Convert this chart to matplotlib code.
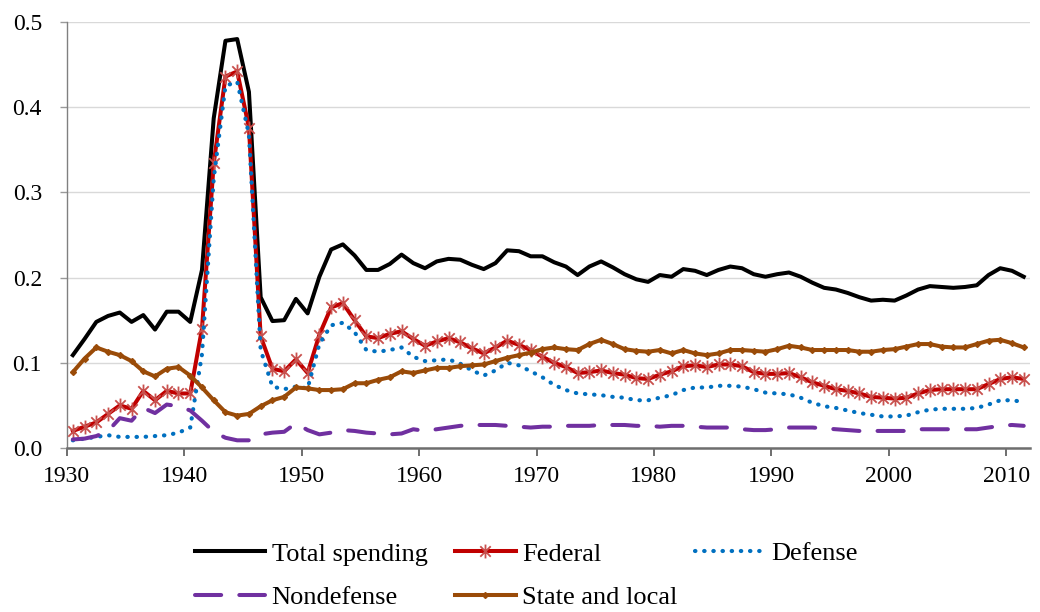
import matplotlib
matplotlib.use("Agg")
import matplotlib.pyplot as plt
import numpy as np
from matplotlib.path import Path
from matplotlib.ticker import FormatStrFormatter

plt.rcParams['font.family'] = ['Liberation Serif', 'DejaVu Serif']

years = list(range(1930, 2012))

total_spending = [
    0.109, 0.128, 0.148, 0.155, 0.159, 0.148, 0.156, 0.139, 0.160, 0.160,
    0.148, 0.209, 0.387, 0.478, 0.480, 0.418, 0.177, 0.149, 0.150, 0.175,
    0.158, 0.201, 0.233, 0.239, 0.226, 0.209, 0.209, 0.216, 0.227, 0.217,
    0.211, 0.219, 0.222, 0.221, 0.215, 0.210, 0.217, 0.232, 0.231, 0.225,
    0.225, 0.218, 0.213, 0.203, 0.213, 0.219, 0.212, 0.204, 0.198, 0.195,
    0.203, 0.201, 0.210, 0.208, 0.203, 0.209, 0.213, 0.211, 0.204, 0.201,
    0.204, 0.206, 0.201, 0.194, 0.188, 0.186, 0.182, 0.177, 0.173, 0.174,
    0.173, 0.179, 0.186, 0.190, 0.189, 0.188, 0.189, 0.191, 0.203, 0.211,
    0.208, 0.201]

federal = [
    0.020, 0.025, 0.030, 0.040, 0.050, 0.046, 0.067, 0.056, 0.067, 0.064,
    0.064, 0.140, 0.334, 0.436, 0.442, 0.376, 0.131, 0.093, 0.090, 0.104,
    0.088, 0.133, 0.165, 0.170, 0.150, 0.131, 0.129, 0.134, 0.137, 0.128,
    0.120, 0.125, 0.129, 0.124, 0.117, 0.111, 0.118, 0.126, 0.121, 0.115,
    0.107, 0.100, 0.095, 0.088, 0.089, 0.091, 0.088, 0.086, 0.082, 0.081,
    0.086, 0.090, 0.096, 0.097, 0.095, 0.098, 0.098, 0.096, 0.089, 0.087,
    0.087, 0.088, 0.083, 0.077, 0.073, 0.069, 0.067, 0.064, 0.060, 0.059,
    0.058, 0.059, 0.064, 0.068, 0.069, 0.069, 0.069, 0.069, 0.075, 0.081,
    0.083, 0.081]

defense = [
    0.009, 0.011, 0.013, 0.015, 0.013, 0.013, 0.013, 0.014, 0.015, 0.018,
    0.024, 0.110, 0.316, 0.425, 0.430, 0.368, 0.115, 0.072, 0.069, 0.072,
    0.070, 0.122, 0.144, 0.147, 0.136, 0.115, 0.113, 0.115, 0.118, 0.107,
    0.102, 0.103, 0.104, 0.099, 0.091, 0.085, 0.091, 0.100, 0.097, 0.090,
    0.083, 0.074, 0.068, 0.064, 0.063, 0.062, 0.060, 0.059, 0.056, 0.056,
    0.059, 0.062, 0.068, 0.071, 0.071, 0.073, 0.073, 0.072, 0.069, 0.065,
    0.064, 0.063, 0.059, 0.053, 0.049, 0.047, 0.044, 0.041, 0.039, 0.037,
    0.037, 0.038, 0.042, 0.045, 0.046, 0.046, 0.046, 0.047, 0.051, 0.056,
    0.056, 0.054]

nondefense = [
    0.010, 0.011, 0.014, 0.020, 0.035, 0.032, 0.047, 0.041, 0.051, 0.049,
    0.044, 0.032, 0.019, 0.012, 0.009, 0.009, 0.016, 0.018, 0.019, 0.029,
    0.021, 0.016, 0.018, 0.021, 0.020, 0.018, 0.017, 0.016, 0.017, 0.022,
    0.020, 0.022, 0.024, 0.026, 0.027, 0.027, 0.027, 0.026, 0.025, 0.024,
    0.025, 0.025, 0.026, 0.026, 0.026, 0.027, 0.027, 0.027, 0.026, 0.026,
    0.025, 0.026, 0.026, 0.025, 0.024, 0.024, 0.024, 0.022, 0.021, 0.021,
    0.022, 0.024, 0.024, 0.024, 0.023, 0.022, 0.021, 0.020, 0.020, 0.020,
    0.020, 0.020, 0.022, 0.022, 0.022, 0.022, 0.022, 0.022, 0.024, 0.026,
    0.027, 0.026]

state_local = [
    0.089, 0.105, 0.118, 0.113, 0.109, 0.102, 0.090, 0.084, 0.093, 0.095,
    0.085, 0.071, 0.056, 0.042, 0.038, 0.040, 0.049, 0.056, 0.060, 0.071,
    0.070, 0.068, 0.068, 0.069, 0.076, 0.076, 0.080, 0.083, 0.090, 0.088,
    0.091, 0.094, 0.094, 0.096, 0.097, 0.098, 0.102, 0.106, 0.109, 0.112,
    0.116, 0.118, 0.116, 0.115, 0.122, 0.127, 0.122, 0.116, 0.114, 0.113,
    0.115, 0.111, 0.115, 0.111, 0.109, 0.111, 0.115, 0.115, 0.114, 0.113,
    0.116, 0.120, 0.118, 0.115, 0.115, 0.115, 0.115, 0.113, 0.113, 0.115,
    0.116, 0.119, 0.122, 0.122, 0.119, 0.118, 0.118, 0.122, 0.126, 0.127,
    0.123, 0.118]

series_labels = ["Total spending", "Federal", "Defense", "Nondefense", "State and local"]
x_ticks = list(range(1930, 2011, 10))
y_ticks = [0.0, 0.1, 0.2, 0.3, 0.4, 0.5]

# mid-year positions
xpos = np.array(years) + 0.5

# Excel-like star marker: vertical line plus an X
star = Path([(0, -1), (0, 1), (-0.75, -0.75), (0.75, 0.75), (-0.75, 0.75), (0.75, -0.75)],
            [Path.MOVETO, Path.LINETO, Path.MOVETO, Path.LINETO, Path.MOVETO, Path.LINETO])

LW = 2.9
fig = plt.figure(figsize=(10.4, 6.12), dpi=100)
ax = fig.add_axes([0.0644, 0.268, 0.9256, 0.696])

h_total, = ax.plot(xpos, total_spending, color='black', lw=LW,
                   label=series_labels[0], zorder=3)
h_fed, = ax.plot(xpos, federal, color='#C00000', lw=LW, marker=star, markersize=10,
                 markeredgecolor='#C8504D', markerfacecolor='none', markeredgewidth=1.3,
                 label=series_labels[1], zorder=4)
h_def, = ax.plot(xpos, defense, color='#0070C0', lw=3.0, linestyle=(0, (0.1, 2.1)),
                 dash_capstyle='round', label=series_labels[2], zorder=5)
h_non, = ax.plot(xpos, nondefense, color='#7030A0', lw=LW, linestyle=(0, (6.5, 4.5)),
                 dash_capstyle='round', label=series_labels[3], zorder=6)
h_sl, = ax.plot(xpos, state_local, color='#9A4B08', lw=LW, marker='D', markersize=3.0,
                markeredgecolor='#9A4B08', markerfacecolor='#9A4B08',
                label=series_labels[4], zorder=7)

ax.set_xlim(1930, 2012)
ax.set_ylim(0, 0.5)
ax.set_xticks(x_ticks)
ax.set_xticklabels([str(v) for v in x_ticks])
ax.set_yticks(y_ticks)
ax.yaxis.set_major_formatter(FormatStrFormatter('%.1f'))

ax.grid(axis='y', color='#D9D9D9', lw=1.0, zorder=0)
ax.set_axisbelow(True)
for s in ['top', 'right']:
    ax.spines[s].set_visible(False)
ax.spines['bottom'].set_color('#6E6E6E')
ax.spines['bottom'].set_linewidth(1.8)
ax.spines['left'].set_color('#808080')
ax.spines['left'].set_linewidth(1.0)
ax.spines['left'].set_linestyle((0, (1, 1)))

ax.tick_params(axis='x', direction='out', length=6, width=1.4, color='#6E6E6E',
               labelsize=17, pad=7)
ax.tick_params(axis='y', direction='out', length=5, width=1.0, color='#9A9A9A',
               labelsize=17, pad=13)

leg_kw = dict(frameon=False, fontsize=19, handletextpad=0.25, labelspacing=0.75,
              borderpad=0, borderaxespad=0, loc='center left')
leg1 = fig.legend(handles=[h_total, h_non], labels=[series_labels[0], series_labels[3]],
                  bbox_to_anchor=(195 / 1040, 1 - 575.5 / 612), handlelength=2.65, **leg_kw)
leg2 = fig.legend(handles=[h_fed, h_sl], labels=[series_labels[1], series_labels[4]],
                  bbox_to_anchor=(455 / 1040, 1 - 575.5 / 612), handlelength=2.3, **leg_kw)
leg3 = fig.legend(handles=[h_def], labels=[series_labels[2]],
                  bbox_to_anchor=(695 / 1040, 1 - 553 / 612), handlelength=2.65, **leg_kw)

fig.savefig('out.png', dpi=100)
